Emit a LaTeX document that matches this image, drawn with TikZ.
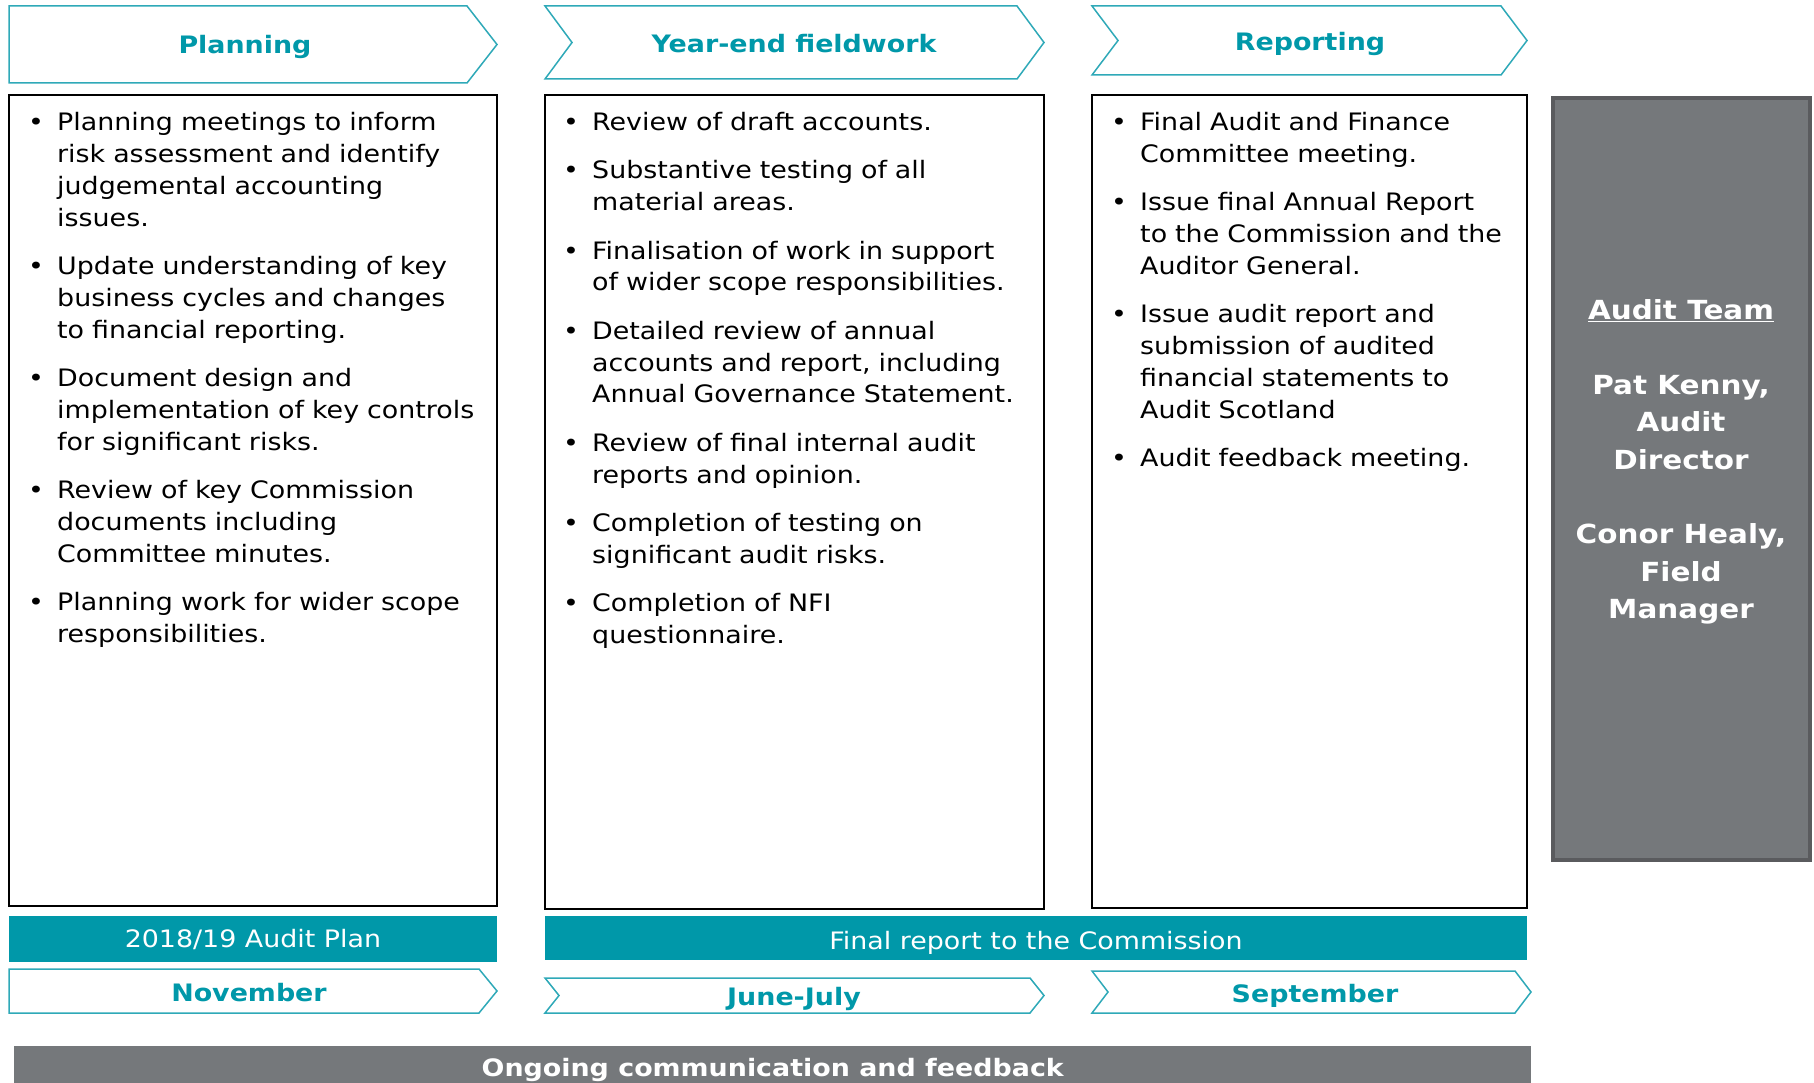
\documentclass[tikz,border=0pt]{standalone}
\usepackage{fontspec}
\setmainfont{DejaVu Sans}[FakeStretch=1.12]
\definecolor{tealb}{HTML}{0098A9}
\definecolor{chevline}{HTML}{2FA9B8}
\definecolor{slate}{HTML}{75787B}
\definecolor{slatedark}{HTML}{5A5B5E}
% one bullet point, hanging indent
\newcommand{\bul}[1]{\hangindent=29pt\hangafter=1\noindent\makebox[29pt][l]{\textbullet}{\let\\\newline#1}\par}
\tikzset{
  chev/.style={draw=chevline, line width=1.5pt, fill=white},
  head/.style={text=tealb, font=\bfseries\fontsize{24}{28}\selectfont, inner sep=0pt},
  stage/.style={draw=black, line width=2.2pt, anchor=north west, inner sep=0pt, outer sep=0pt},
  list/.style={anchor=north west, inner sep=0pt, text width=470pt,
    font=\fontsize{24}{31.9}\selectfont\setlength{\parskip}{16.3pt}},
  bar/.style={fill=tealb, text=white, anchor=north west, inner sep=0pt, outer sep=0pt,
    font=\fontsize{24}{28}\selectfont},
}
\begin{document}
\begin{tikzpicture}[x=1pt,y=-1pt]
  \useasboundingbox (0,0) rectangle (1814,1083);
  % phase headers
  \draw[chev] (9,6) -- (467,6) -- (497,44.5) -- (467,83) -- (9,83) -- cycle;
  \node[head] (planning) at (245,47) {Planning};
  \draw[chev] (545,6) -- (1017,6) -- (1044,42.5) -- (1017,79) -- (545,79) -- (572,42.5) -- cycle;
  \node[head] (fieldwork) at (794,44) {Year-end fieldwork};
  \draw[chev] (1092,6) -- (1501,6) -- (1527,40.5) -- (1501,75) -- (1092,75) -- (1118,40.5) -- cycle;
  \node[head] (reporting) at (1310,44) {Reporting};

  % stage boxes
  \node[stage, minimum width=488pt, minimum height=811pt] (planbox) at (9,95) {};
  \node[stage, minimum width=499pt, minimum height=814pt] (fieldbox) at (545,95) {};
  \node[stage, minimum width=435pt, minimum height=813pt] (reportbox) at (1092,95) {};

  \node[list] (planlist) at (28,112.3) {%
    \bul{Planning meetings to inform\\risk assessment and identify\\judgemental accounting\\issues.}
    \bul{Update understanding of key\\business cycles and changes\\to financial reporting.}
    \bul{Document design and\\implementation of key controls\\for significant risks.}
    \bul{Review of key Commission\\documents including\\Committee minutes.}
    \bul{Planning work for wider scope\\responsibilities.}};
  \node[list] (fieldlist) at (563,112.3) {%
    \bul{Review of draft accounts.}
    \bul{Substantive testing of all\\material areas.}
    \bul{Finalisation of work in support\\of wider scope responsibilities.}
    \bul{Detailed review of annual\\accounts and report, including\\Annual Governance Statement.}
    \bul{Review of final internal audit\\reports and opinion.}
    \bul{Completion of testing on\\significant audit risks.}
    \bul{Completion of NFI\\questionnaire.}};
  \node[list] (reportlist) at (1111,112.3) {%
    \bul{Final Audit and Finance\\Committee meeting.}
    \bul{Issue final Annual Report\\to the Commission and the\\Auditor General.}
    \bul{Issue audit report and\\submission of audited\\financial statements to\\Audit Scotland}
    \bul{Audit feedback meeting.}};

  % audit team
  \node[fill=slate, draw=slatedark, line width=4pt, anchor=north west, outer sep=0pt,
    minimum width=257pt, minimum height=762pt] (teambox) at (1553,98) {};
  \node[text=white, align=center, font=\bfseries\fontsize{26.3}{37.4}\selectfont] (team) at (1681,462)
    {\underline{Audit Team}\\ ~ \\Pat Kenny,\\Audit\\Director\\ ~ \\Conor Healy,\\Field\\Manager};

  % outputs
  \node[bar, minimum width=488pt, minimum height=46pt] (auditplan) at (9,916) {2018/19 Audit Plan};
  \node[bar, minimum width=982pt, minimum height=44pt, text height=23pt, text depth=0pt]
    (finalreport) at (545,916) {Final report to the Commission};

  % months
  \draw[chev] (9,969) -- (479,969) -- (497,991) -- (479,1013) -- (9,1013) -- cycle;
  \node[head] (nov) at (249,993) {November};
  \draw[chev] (545,978) -- (1030,978) -- (1044,995.5) -- (1030,1013) -- (545,1013) -- (559,995.5) -- cycle;
  \node[head] (junjul) at (794,999) {June-July};
  \draw[chev] (1092,971) -- (1515,971) -- (1531,992) -- (1515,1013) -- (1092,1013) -- (1108,992) -- cycle;
  \node[head] (sep) at (1315,996) {September};

  \node[fill=slate, text=white, anchor=north west, inner sep=0pt, minimum width=1517pt,
    minimum height=48pt, font=\bfseries\fontsize{24}{28}\selectfont] (ongoing) at (14,1046)
    {Ongoing communication and feedback};
\end{tikzpicture}
\end{document}
